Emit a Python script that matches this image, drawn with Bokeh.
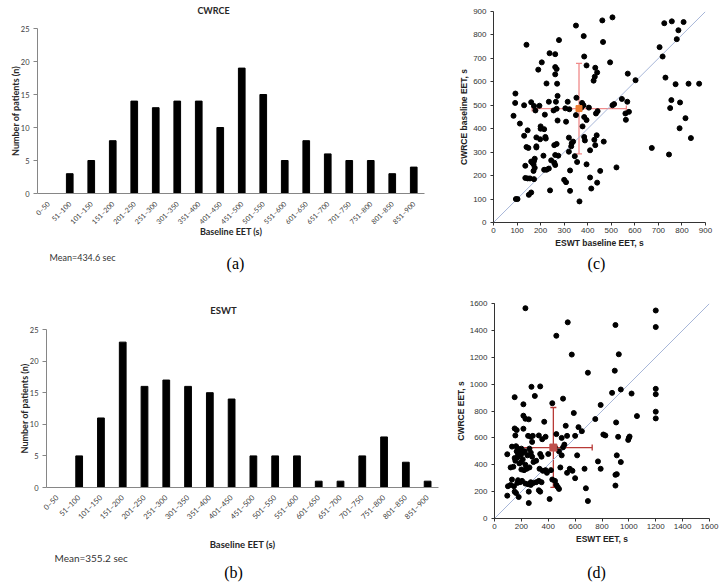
import math
from bokeh.plotting import figure
from bokeh.models import (ColumnDataSource, Range1d, FactorRange, Label, Whisker,
                          TeeHead, SingleIntervalTicker)
from bokeh.layouts import row, column
from bokeh.embed import file_html
from bokeh.resources import INLINE

# ---------------- data ----------------
bins = ["0–50", "51–100", "101–150", "151–200", "201–250", "251–300", "301–350",
        "351–400", "401–450", "451–500", "501–550", "551–600", "601–650", "651–700",
        "701–750", "751–800", "801–850", "851–900"]
cwrce_counts = [0, 3, 5, 8, 14, 13, 14, 14, 10, 19, 15, 5, 8, 6, 5, 5, 3, 4]
eswt_counts = [0, 5, 11, 23, 16, 17, 16, 15, 14, 5, 5, 5, 1, 1, 5, 8, 4, 1]
cwrce_mean_text = "Mean=434.6 sec"
eswt_mean_text = "Mean=355.2 sec"

# (c) baseline EET: ESWT (x) vs CWRCE (y)
base_eswt = [505, 462, 350, 725, 757, 807, 785, 778, 383, 465, 278, 140, 238, 262, 385, 495, 205, 190,
             262, 268, 262, 395, 432, 440, 430, 425, 225, 270, 603, 570, 705, 718, 730, 773, 828, 873,
             93, 92, 130, 85, 112, 160, 172, 195, 178, 235, 218, 265, 272, 255, 268, 305, 315, 322,
             352, 376, 373, 382, 405, 272, 308, 350, 385, 395, 435, 442, 378, 505, 512, 545, 568, 560,
             575, 562, 792, 755, 750, 815, 790, 838, 672, 745, 145, 200, 200, 215, 182, 198, 220, 222,
             130, 140, 148, 182, 182, 160, 165, 175, 172, 170, 175, 170, 172, 135, 135, 145, 155, 150,
             160, 95, 102, 212, 215, 225, 235, 245, 240, 258, 268, 262, 275, 258, 262, 300, 308, 320,
             320, 330, 332, 338, 325, 325, 345, 355, 365, 385, 388, 395, 410, 410, 415, 428, 438, 432,
             440, 453, 468, 522]
base_cwrce = [875, 862, 840, 850, 858, 855, 820, 782, 795, 770, 778, 758, 722, 718, 708, 683, 683, 652,
              663, 655, 632, 670, 660, 640, 622, 605, 593, 592, 607, 635, 748, 708, 618, 590, 592, 592,
              550, 510, 500, 455, 422, 513, 497, 498, 478, 515, 460, 515, 540, 478, 485, 487, 515, 483,
              532, 510, 490, 500, 490, 435, 430, 458, 450, 437, 465, 475, 410, 500, 505, 527, 515, 465,
              472, 438, 512, 522, 488, 445, 402, 360, 318, 290, 393, 410, 400, 398, 363, 355, 365, 358,
              370, 322, 318, 325, 320, 260, 255, 272, 262, 248, 233, 220, 185, 242, 190, 188, 188, 118,
              128, 100, 100, 285, 225, 225, 230, 265, 137, 330, 335, 288, 285, 255, 245, 182, 172, 362,
              302, 325, 338, 345, 222, 135, 283, 258, 90, 365, 350, 248, 192, 308, 145, 353, 372, 330,
              170, 220, 345, 235]
base_mean = (363, 486)
base_x_err = (164, 564)
base_y_err = (293, 679)

# (d) EET after treatment: ESWT (x) vs CWRCE (y)
eet_eswt = [230, 545, 460, 1200, 1200, 900, 575, 925, 695, 895, 275, 340, 300, 150, 510, 875, 940, 1020,
            1200, 1200, 1200, 1200, 430, 215, 790, 590, 1060, 215, 230, 255, 370, 750, 905, 530, 625, 650,
            150, 165, 215, 155, 250, 270, 285, 330, 355, 380, 280, 460, 500, 540, 600, 810, 825, 920,
            995, 1000, 1005, 95, 130, 160, 175, 165, 175, 190, 195, 200, 210, 225, 245, 260, 270, 150,
            170, 155, 185, 200, 210, 230, 200, 220, 240, 260, 120, 140, 130, 175, 170, 190, 205, 230,
            250, 270, 290, 310, 330, 350, 100, 120, 145, 150, 160, 180, 95, 255, 255, 270, 340, 330,
            310, 290, 280, 340, 350, 335, 360, 380, 390, 400, 420, 430, 450, 460, 470, 480, 410, 450,
            480, 500, 510, 520, 490, 540, 560, 580, 600, 615, 670, 680, 695, 770, 790, 900, 910, 910,
            900, 940]
eet_cwrce = [1565, 1460, 1360, 1548, 1425, 1440, 1220, 1222, 1085, 1100, 980, 983, 912, 903, 892, 935, 960,
             930, 965, 925, 795, 745, 858, 850, 845, 785, 762, 765, 742, 738, 720, 740, 715, 690, 680, 650,
             670, 658, 668, 618, 615, 608, 615, 618, 590, 608, 570, 628, 600, 615, 615, 625, 618, 608,
             585, 600, 610, 478, 535, 538, 520, 500, 480, 505, 470, 520, 490, 500, 470, 520, 490, 450,
             455, 430, 410, 420, 440, 400, 365, 360, 370, 380, 380, 385, 290, 285, 265, 270, 280, 260,
             255, 270, 265, 270, 280, 270, 240, 250, 240, 200, 190, 160, 170, 115, 200, 250, 200, 210,
             430, 420, 460, 480, 460, 370, 355, 360, 340, 480, 360, 290, 280, 250, 235, 220, 145, 530,
             500, 470, 530, 550, 380, 340, 370, 355, 300, 470, 370, 225, 130, 425, 370, 325, 330, 470,
             245, 420]
eet_mean = (438, 528)
eet_x_err = (174, 727)
eet_y_err = (231, 826)

HFONT = "Lato"
SFONT = "Liberation Sans"


def canvas_label(p, side, x, y, text, **kw):
    p.add_layout(Label(x=x, y=y, x_units="canvas", y_units="canvas", text=text,
                       text_baseline="middle", **kw), side)


def histogram(counts, title, mean_text, tag, width, height, bl, bt, br, bb,
              ylab_standoff, xlab_standoff, fs, title_pos, mean_pos, tag_pos):
    p = figure(x_range=FactorRange(*bins), y_range=Range1d(0, 25), width=width, height=height,
               min_border_left=bl, min_border_top=bt, min_border_right=br, min_border_bottom=bb,
               output_backend="svg", toolbar_location=None)
    p.vbar(x=bins, top=counts, width=0.31, color="black")
    p.grid.visible = False
    p.outline_line_color = None
    p.xaxis.major_label_orientation = math.pi / 4
    p.xaxis.major_label_standoff = 3
    p.xaxis.axis_label_standoff = xlab_standoff
    p.xaxis.axis_label = "Baseline EET (s)"
    p.yaxis.axis_label = "Number of patients (n)"
    p.yaxis.ticker = SingleIntervalTicker(interval=5, num_minor_ticks=0)
    p.yaxis.minor_tick_line_color = None
    p.yaxis.major_tick_in = 0
    p.yaxis.major_tick_out = 4
    p.yaxis.major_label_standoff = 4
    p.yaxis.axis_label_standoff = ylab_standoff
    for ax in (p.xaxis, p.yaxis):
        ax.axis_line_color = "#868686"
        ax.major_label_text_font = HFONT
        ax.major_label_text_color = "#404040"
        ax.axis_label_text_font = HFONT
        ax.axis_label_text_font_style = "bold"
        ax.axis_label_text_color = "#262626"
    p.xaxis.major_label_text_font_size = fs["xtick"]
    p.yaxis.major_label_text_font_size = "7.5px"
    p.xaxis.axis_label_text_font_size = fs["axis"]
    p.yaxis.axis_label_text_font_size = "9px"
    p.yaxis.major_tick_line_color = "#868686"
    p.xaxis.major_tick_line_color = None
    canvas_label(p, "above", title_pos[0], title_pos[1], title, text_align="center",
                 text_font=HFONT, text_font_style="bold", text_font_size=fs["title"],
                 text_color="#262626")
    canvas_label(p, "below", mean_pos[0], mean_pos[1], mean_text, text_align="left",
                 text_font=HFONT, text_font_size=fs["mean"], text_color="#333333")
    canvas_label(p, "below", tag_pos[0], tag_pos[1], tag, text_align="center",
                 text_font="Liberation Serif", text_font_size="16px", text_color="black")
    return p


def scatter_panel(xs, ys, lim, step, minor, xlabel, ylabel, mean, xerr, yerr, err_color,
                  mean_color, mean_size, tag, width, height, bl, bt, br, bb, tag_pos,
                  ylab_standoff):
    p = figure(x_range=Range1d(0, lim), y_range=Range1d(0, lim), width=width, height=height,
               min_border_left=bl, min_border_top=bt, min_border_right=br, min_border_bottom=bb,
               output_backend="svg", toolbar_location=None)
    p.grid.visible = False
    p.outline_line_color = None
    p.line([0, lim], [0, lim], line_color="#a7b6d8", line_width=1)
    p.scatter(xs, ys, size=5, color="black")
    hsrc = ColumnDataSource(dict(base=[mean[1]], lower=[xerr[0]], upper=[xerr[1]]))
    vsrc = ColumnDataSource(dict(base=[mean[0]], lower=[yerr[0]], upper=[yerr[1]]))
    for src, dim in ((hsrc, "width"), (vsrc, "height")):
        w = Whisker(source=src, base="base", lower="lower", upper="upper", dimension=dim,
                    line_color=err_color, line_width=1.3,
                    upper_head=TeeHead(size=6, line_color=err_color, line_width=1.3),
                    lower_head=TeeHead(size=6, line_color=err_color, line_width=1.3))
        p.add_layout(w)
    r = p.scatter([mean[0]], [mean[1]], marker="square", size=mean_size, color=mean_color)
    r.level = "overlay"
    p.xaxis.ticker = SingleIntervalTicker(interval=step, num_minor_ticks=0)
    p.yaxis.ticker = SingleIntervalTicker(interval=step, num_minor_ticks=minor)
    p.xaxis.axis_label = xlabel
    p.yaxis.axis_label = ylabel
    for ax in (p.xaxis, p.yaxis):
        ax.axis_line_color = "#333333"
        ax.major_tick_line_color = "#333333"
        ax.major_tick_in = 0
        ax.major_tick_out = 3
        ax.minor_tick_in = 0
        ax.minor_tick_out = 2
        ax.major_label_text_font = SFONT
        ax.major_label_text_font_size = "8px"
        ax.major_label_text_color = "#333333"
        ax.axis_label_text_font = SFONT
        ax.axis_label_text_font_size = "8.5px"
        ax.axis_label_text_font_style = "bold"
        ax.axis_label_text_color = "#222222"
    p.xaxis.minor_tick_line_color = None
    p.yaxis.minor_tick_line_color = "#333333" if minor else None
    p.xaxis.major_label_standoff = 2
    p.xaxis.axis_label_standoff = 2
    p.yaxis.major_label_standoff = 4
    p.yaxis.axis_label_standoff = ylab_standoff
    canvas_label(p, "below", tag_pos[0], tag_pos[1], tag, text_align="center",
                 text_font="Liberation Serif", text_font_size="16px", text_color="black")
    return p


fonts_a = dict(xtick="7px", axis="9px", title="9px", mean="9px")
fonts_b = dict(xtick="7.5px", axis="9.5px", title="9.5px", mean="10px")

pa = histogram(cwrce_counts, "CWRCE", cwrce_mean_text, "(a)", 440, 285, 37, 28, 16, 92, -3, -5,
               fonts_a, (213, 10), (49, 257), (235, 263))
pb = histogram(eswt_counts, "ESWT", eswt_mean_text, "(b)", 440, 297, 46, 44, 2, 90, -3, 12,
               fonts_b, (223, 25), (54, 272), (233, 287))
pc = scatter_panel(base_eswt, base_cwrce, 900, 100, 0, "ESWT baseline EET, s",
                   "CWRCE baseline EET, s", base_mean, base_x_err, base_y_err, "#f08a8a",
                   "#ED7D31", 6, "(c)", 280, 285, 53, 11, 15, 63, (156, 263), 1)
pd_ = scatter_panel(eet_eswt, eet_cwrce, 1600, 200, 1, "ESWT EET, s", "CWRCE EET, s",
                    eet_mean, eet_x_err, eet_y_err, "#b83a36", "#c0504d", 7, "(d)",
                    280, 297, 54, 18, 11, 64, (156, 287), 1)

# each plot wrapped in its own row so frames are not forced into alignment
layout = row(column(row(pa), row(pb)), column(row(pc), row(pd_)))
open("out.html", "w").write(file_html(layout, INLINE))
